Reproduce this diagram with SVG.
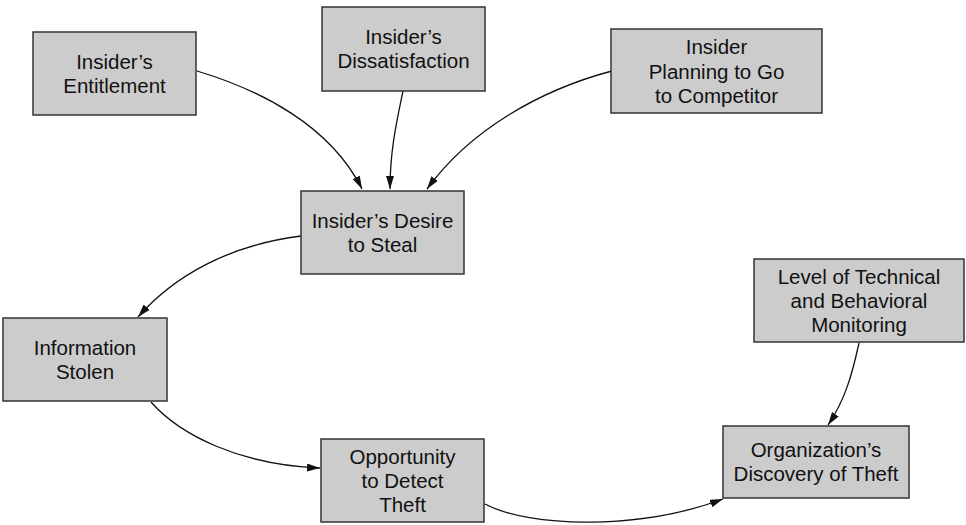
<svg xmlns="http://www.w3.org/2000/svg" width="966" height="525" viewBox="0 0 966 525">
<defs>
<style>
.box{fill:#cccccc;stroke:#333333;stroke-width:1.5}
.lbl{font-family:"Liberation Sans",Arial,sans-serif;font-size:20.5px;fill:#111111;text-anchor:middle}
.edge{fill:none;stroke:#111111;stroke-width:1.3}
</style>
<marker id="ah" viewBox="0 0 13 8" refX="13" refY="4" markerWidth="13" markerHeight="8" orient="auto" markerUnits="userSpaceOnUse">
<path d="M0,0 L13,4 L0,8 z" fill="#111111"/>
</marker>
</defs>
<rect width="966" height="525" fill="#ffffff"/>
<g id="edges">
<path class="edge" marker-end="url(#ah)" d="M197,71 C260,90 330,125 362,189"/>
<path class="edge" marker-end="url(#ah)" d="M403,91 C397,120 390,150 390,189"/>
<path class="edge" marker-end="url(#ah)" d="M612,71 C540,90 470,130 427,189"/>
<path class="edge" marker-end="url(#ah)" d="M301,236 C230,245 175,275 138,317"/>
<path class="edge" marker-end="url(#ah)" d="M151,402 C180,435 240,465 320,468"/>
<path class="edge" marker-end="url(#ah)" d="M485,504 C530,528 640,530 723,499"/>
<path class="edge" marker-end="url(#ah)" d="M859,343 C852,375 845,400 828,425"/>
</g>
<g id="entitlement">
<rect class="box" x="33" y="32" width="163" height="83"/>
<text class="lbl" x="114.5" y="69">Insider’s</text>
<text class="lbl" x="114.5" y="93">Entitlement</text>
</g>
<g id="dissatisfaction">
<rect class="box" x="322" y="7" width="163" height="84"/>
<text class="lbl" x="403.5" y="44">Insider’s</text>
<text class="lbl" x="403.5" y="68">Dissatisfaction</text>
</g>
<g id="planning">
<rect class="box" x="611" y="29" width="211" height="84"/>
<text class="lbl" x="716.5" y="54">Insider</text>
<text class="lbl" x="716.5" y="78.5">Planning to Go</text>
<text class="lbl" x="716.5" y="103">to Competitor</text>
</g>
<g id="desire">
<rect class="box" x="301" y="191" width="163" height="83"/>
<text class="lbl" x="382.5" y="228">Insider’s Desire</text>
<text class="lbl" x="382.5" y="252">to Steal</text>
</g>
<g id="stolen">
<rect class="box" x="3" y="318" width="164" height="83"/>
<text class="lbl" x="85" y="355">Information</text>
<text class="lbl" x="85" y="379">Stolen</text>
</g>
<g id="opportunity">
<rect class="box" x="321" y="439" width="163" height="83"/>
<text class="lbl" x="402.5" y="464">Opportunity</text>
<text class="lbl" x="402.5" y="488">to Detect</text>
<text class="lbl" x="402.5" y="512">Theft</text>
</g>
<g id="monitoring">
<rect class="box" x="754" y="259" width="210" height="83"/>
<text class="lbl" x="859" y="284">Level of Technical</text>
<text class="lbl" x="859" y="308">and Behavioral</text>
<text class="lbl" x="859" y="332">Monitoring</text>
</g>
<g id="discovery">
<rect class="box" x="723" y="426" width="186" height="72"/>
<text class="lbl" x="816" y="457">Organization’s</text>
<text class="lbl" x="816" y="481">Discovery of Theft</text>
</g>
</svg>
